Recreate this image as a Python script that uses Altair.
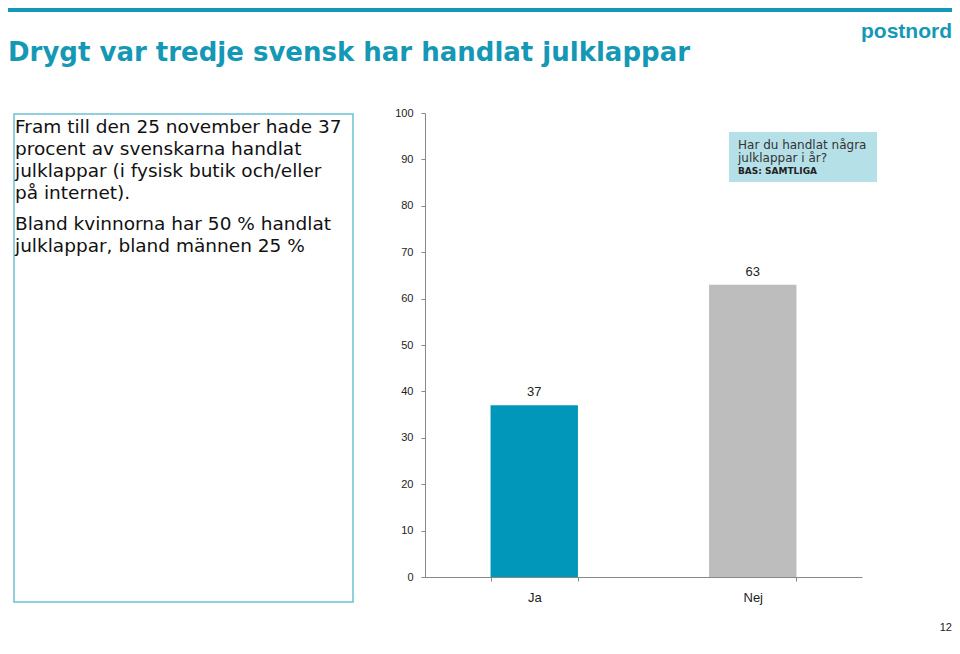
import altair as alt
import pandas as pd

categories = ["Ja", "Nej"]
values = [37, 63]
y_ticks = [0, 10, 20, 30, 40, 50, 60, 70, 80, 90, 100]

title_text = "Drygt var tredje svensk har handlat julklappar"
para1 = ["Fram till den 25 november hade 37", "procent av svenskarna handlat",
         "julklappar (i fysisk butik och/eller", "på internet)."]
para2 = ["Bland kvinnorna har 50 % handlat", "julklappar, bland männen 25 %"]
box_lines = ["Har du handlat några", "julklappar i år?"]
box_bold = "BAS: SAMTLIGA"

TEAL = "#1598b6"
FONT = "Liberation Sans"
WIDE = "DejaVu Sans"

df = pd.DataFrame({"cat": categories, "val": values})

x_enc = alt.X("cat:N", sort=categories,
              scale=alt.Scale(paddingInner=0.6, paddingOuter=0.3),
              axis=alt.Axis(title=None, labelAngle=0, labelFontSize=13, labelColor="#222",
                            labelFont=FONT, labelPadding=10, tickBand="extent", tickSize=4,
                            domainColor="#888", tickColor="#888", grid=False))
y_enc = alt.Y("val:Q", scale=alt.Scale(domain=[0, 100], nice=False),
              axis=alt.Axis(title=None, values=y_ticks, labelFontSize=11, labelColor="#222",
                            labelFont=FONT, labelPadding=8, tickSize=4,
                            domainColor="#888", tickColor="#888", grid=False))

base = alt.Chart(df)
bars = base.mark_bar().encode(
    x=x_enc, y=y_enc,
    color=alt.Color("cat:N", scale=alt.Scale(domain=categories, range=["#0097ba", "#bdbdbd"]), legend=None),
)
labels = base.mark_text(baseline="bottom", dy=-6, fontSize=13, font=FONT, color="#222").encode(
    x=alt.X("cat:N", sort=categories), y="val:Q", text="val:Q"
)

one = pd.DataFrame({"a": [0]})
ann = alt.Chart(one)

top_bar = ann.mark_rect(color=TEAL).encode(
    x=alt.value(-425), x2=alt.value(530), y=alt.value(-105), y2=alt.value(-101))
title = ann.mark_text(text=title_text, align="left", baseline="middle", fontSize=26,
                      fontWeight="bold", font=WIDE, color=TEAL).encode(
    x=alt.value(-417), y=alt.value(-60))
logo = ann.mark_text(text="postnord", align="right", baseline="middle", fontSize=21,
                     fontWeight="bold", font=FONT, color=TEAL).encode(
    x=alt.value(527), y=alt.value(-81))
box = ann.mark_rect(fill="white", fillOpacity=0, stroke="#6fc0d3", strokeWidth=1.5).encode(
    x=alt.value(-411), x2=alt.value(-72), y=alt.value(1), y2=alt.value(489))
p1 = ann.mark_text(text=para1, align="left", baseline="middle", fontSize=18.5, lineHeight=22,
                   font=WIDE, color="#111").encode(
    x=alt.value(-410), y=alt.value(14))
p2 = ann.mark_text(text=para2, align="left", baseline="middle", fontSize=18.5, lineHeight=22,
                   font=WIDE, color="#111").encode(
    x=alt.value(-410), y=alt.value(111))
qbox = ann.mark_rect(color="#b5e0e8").encode(
    x=alt.value(304), x2=alt.value(452), y=alt.value(19), y2=alt.value(69))
qtext = ann.mark_text(text=box_lines, align="left", baseline="middle", fontSize=12, lineHeight=13,
                      font=WIDE, color="#333").encode(
    x=alt.value(313), y=alt.value(32))
qbold = ann.mark_text(text=box_bold, align="left", baseline="middle", fontSize=9,
                      fontWeight="bold", font=WIDE, color="#222").encode(
    x=alt.value(313), y=alt.value(58))
pagenum = ann.mark_text(text="12", align="right", baseline="middle", fontSize=11,
                        font=FONT, color="#222").encode(
    x=alt.value(527), y=alt.value(515))

chart = alt.layer(top_bar, title, logo, box, p1, p2, qbox, qtext, qbold, bars, labels, pagenum).properties(
    width=437, height=464,
    autosize=alt.AutoSizeParams(type="none"),
    padding={"left": 417, "top": 105, "right": 90, "bottom": 61},
).configure_view(strokeWidth=0)

chart.save("out.html", embed_options={"renderer": "svg", "actions": False})
